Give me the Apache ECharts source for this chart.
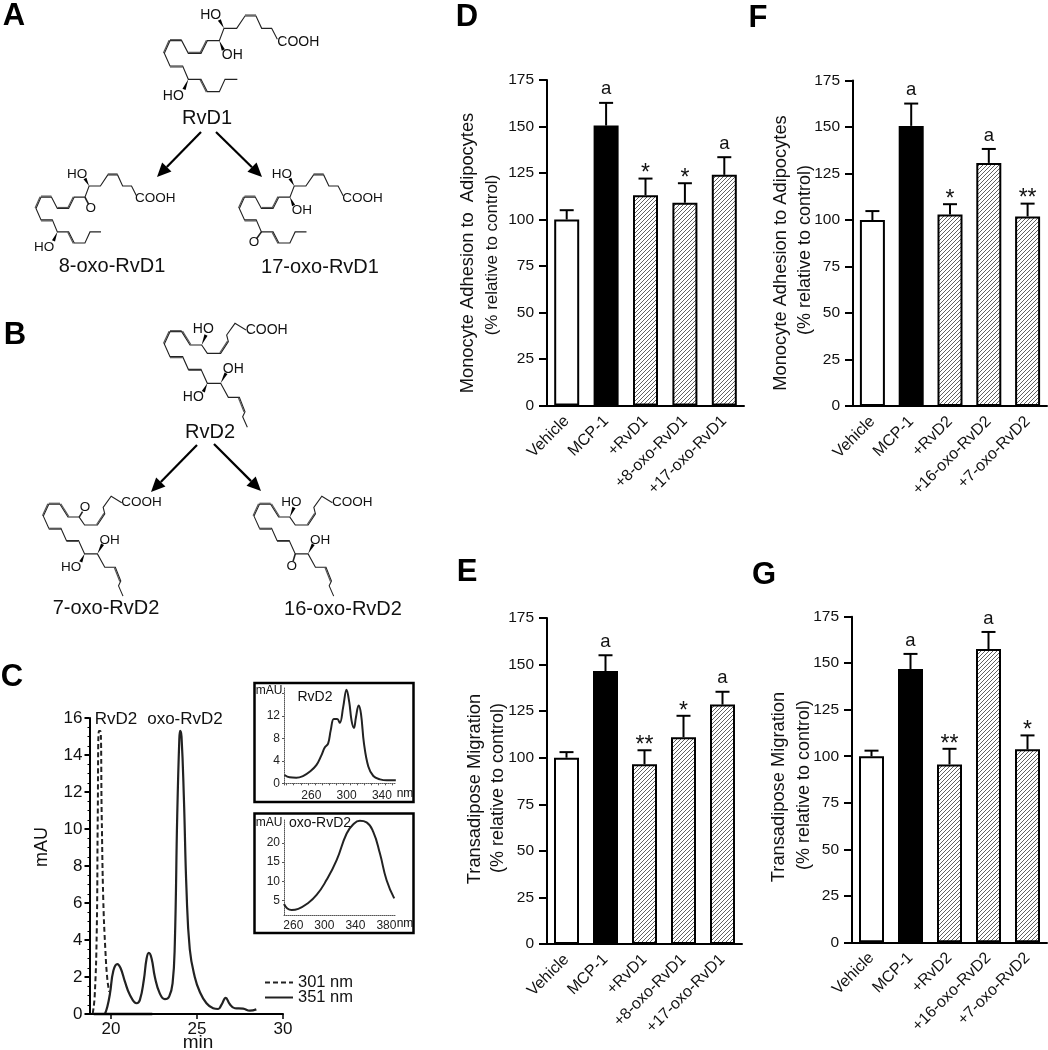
<!DOCTYPE html>
<html><head><meta charset="utf-8">
<style>html,body{margin:0;padding:0;background:#fff}#c{width:1048px;height:1050px}</style>
<script src="https://cdn.jsdelivr.net/npm/echarts@6/dist/echarts.min.js"></script>
</head><body><div id="c"></div>
<script>
// ---------- data ----------
const catsD = ['Vehicle','MCP-1','+RvD1','+8-oxo-RvD1','+17-oxo-RvD1'];
const catsF = ['Vehicle','MCP-1','+RvD2','+16-oxo-RvD2','+7-oxo-RvD2'];
const valsD = [100,150.5,113,109,124];
const topsD = [105,162.7,122,119.5,133.5];
const marksD = ['','a','*','*','a'];
const valsE = [100,146.5,96.5,111,128.5];
const topsE = [103,155,104,122.5,135.4];
const marksE = ['','a','**','*','a'];
const valsF = [100,150.6,103,130.7,101.9];
const topsF = [104.8,162.6,108.5,138.2,108.8];
const marksF = ['','a','*','a','**'];
const valsG = [100,146.9,95.6,157.6,103.7];
const topsG = [103,155,104,166.8,111.2];
const marksG = ['','a','**','a','*'];

const trace351 = [[19.65,0],[19.79,0.4],[19.94,1.1],[20.14,2.35],[20.37,2.7],[20.56,2.47],[20.81,1.75],[21.1,1.03],[21.49,0.58],[21.68,0.76],[21.91,1.85],[22.07,3.0],[22.2,3.3],[22.36,3.0],[22.55,2.0],[22.84,1.1],[23.13,0.8],[23.38,0.94],[23.58,1.66],[23.71,3.8],[23.85,10.7],[23.97,14.8],[24.02,15.3],[24.1,15.0],[24.24,11.6],[24.39,6.7],[24.58,3.5],[24.87,2.0],[25.16,1.2],[25.55,0.58],[25.94,0.31],[26.23,0.27],[26.42,0.49],[26.67,0.87],[26.9,0.54],[27.2,0.31],[27.68,0.29],[28.07,0.18],[28.45,0.25]];
const trace301 = [[18.94,0.04],[19.05,0.94],[19.17,4.4],[19.23,10.7],[19.3,15.3],[19.38,15.3],[19.46,10.7],[19.55,6.2],[19.67,3.5],[19.79,1.85],[19.9,1.2]];
const baseline = [[19,0],[22.4,0]];
const specRvD2 = [[229.6,1.48],[235.3,1.07],[242.9,1.0],[250.5,1.3],[258.1,2.07],[265.7,3.25],[271.4,5.0],[275.2,6.4],[279,7.1],[282,9.5],[285.5,11.5],[289.3,11.5],[292.3,10.8],[296.1,13.6],[299.9,16.7],[303,14.5],[305.6,11.2],[308.3,9.9],[310.6,11.8],[313.6,13.9],[316.3,12.4],[319.7,7.1],[324.6,3.0],[330.3,1.3],[337.9,0.71],[345.6,0.53],[355.8,0.53]];
const specOxo = [[248,4.14],[252.3,3.0],[257.9,2.6],[266.4,2.9],[277.2,4.14],[290,6.5],[302.9,10.4],[315.8,15.5],[328.7,22.4],[337.3,24.8],[345.8,25.7],[354.4,25.3],[363,22.8],[371.6,17.2],[380.2,10.3],[390,5.6]];

// ---------- helpers ----------
const F = '"Liberation Sans", Arial, sans-serif';
const G = [];
function txt(s,x,y,size,o){o=o||{};G.push({type:'text',x:x,y:y,rotation:o.rot||0,z:20,style:{text:s,x:0,y:0,fill:o.fill||'#111',fontFamily:F,fontSize:size,fontWeight:o.weight||'normal',align:o.align||'center',verticalAlign:'middle'}});}
function pl(points,w,col){G.push({type:'polyline',z:15,shape:{points:points},style:{stroke:col||'#222',lineWidth:w||1.1,fill:null,lineJoin:'miter'}});}
function arrow(x1,y1,x2,y2){const dx=x2-x1,dy=y2-y1,L=Math.hypot(dx,dy),ux=dx/L,uy=dy/L,hl=14,hw=6.5;
  pl([[x1,y1],[x2-ux*hl,y2-uy*hl]],2.2,'#000');
  G.push({type:'polygon',z:15,shape:{points:[[x2,y2],[x2-ux*hl-uy*hw,y2-uy*hl+ux*hw],[x2-ux*hl+uy*hw,y2-uy*hl-ux*hw]]},style:{fill:'#000'}});}

// structures: outline coordinates in a 3x sketch space
const chainD1=[[832,118],[815,85],[785,85],[768,48],[735,48],[710,85],[672,85],[658,122],[622,122],[603,160],[565,160],[545,122],[510,122],[493,160],[510,198],[548,198],[565,238],[603,238],[622,275],[658,275],[675,238],[712,238]];
const dblD1=[3,8,9,11,12,14,17];
const chainD2=[[738,30],[705,10],[680,45],[685,65],[662,100],[622,100],[605,75],[570,75],[545,35],[510,35],[493,72],[510,110],[548,110],[565,148],[603,148],[622,190],[662,190],[685,232],[718,232],[735,275],[728,290],[742,322]];
const dblD2=[3,7,8,9,11,13,18];
function mol(chain,dbl,tf,labels,wedges,size,oxo){
  const P=p=>tf(p[0],p[1]);
  pl(chain.map(p=>{const q=P(p);return [q[0]/3,q[1]/3];}));
  dbl.forEach(i=>{const a=P(chain[i]),b=P(chain[i+1]);const dx=b[0]-a[0],dy=b[1]-a[1],L=Math.hypot(dx,dy),nx=-dy/L*3,ny=dx/L*3;
    pl([[(a[0]+nx)/3,(a[1]+ny)/3],[(b[0]+nx)/3,(b[1]+ny)/3]],1.2,'#555');});
  wedges.forEach(w=>{const a=P(w[0]),b=P(w[1]);const dx=b[0]-a[0],dy=b[1]-a[1],L=Math.hypot(dx,dy),nx=-dy/L*5,ny=dx/L*5;
    G.push({type:'polygon',z:15,shape:{points:[[a[0]/3,a[1]/3],[(b[0]+nx)/3,(b[1]+ny)/3],[(b[0]-nx)/3,(b[1]-ny)/3]]},style:{fill:'#000'}});});
  labels.forEach(l=>{const q=P(l);txt(l[2],q[0]/3,q[1]/3,size);});
  if(oxo){const a=tf(oxo[0][0],oxo[0][1]);const t=oxo[1];
    const dx=t[0]-a[0],dy=t[1]-a[1],L=Math.hypot(dx,dy),k=(L-14)/L;
    pl([[a[0]/3,a[1]/3],[(a[0]+dx*k)/3,(a[1]+dy*k)/3]],1.6,'#222');
    txt('O',t[0]/3,t[1]/3,size);}
}
const ident=(ox,oy)=>(x,y)=>[x+ox,y+oy];
const tf8=(x,y)=>[108+(x-493)*0.89,522+(y-45)*0.9];
const tf17=(x,y)=>[718+(x-493)*0.92,522+(y-45)*0.9];
mol(chainD1,dblD1,ident(0,0),[[895,125,'COOH'],[632,45,'HO'],[697,165,'OH'],[520,288,'HO']],[[[672,85],[658,60]],[[658,122],[670,150]],[[565,238],[552,268]]],14);
mol(chainD1,dblD1,tf8,[[895,125,'COOH'],[632,45,'HO'],[520,288,'HO']],[[[672,85],[658,60]],[[565,238],[552,268]]],13.5,[[658,122],[272,625]]);
mol(chainD1,dblD1,tf17,[[895,125,'COOH'],[632,45,'HO'],[697,165,'OH']],[[[672,85],[658,60]],[[658,122],[670,150]]],13.5,[[565,238],[762,727]]);
const B0=960;
const tf7=(x,y)=>[130+(x-493)*0.96,B0+548+(y-30)*0.96];
const tf16=(x,y)=>[762+(x-493)*0.96,B0+548+(y-30)*0.96];
mol(chainD2,dblD2,ident(0,B0),[[800,30,'COOH'],[610,28,'HO'],[700,147,'OH'],[580,232,'HO']],[[[605,75],[618,45]],[[662,190],[678,160]],[[622,190],[610,215]]],14);
mol(chainD2,dblD2,tf7,[[800,30,'COOH'],[700,147,'OH'],[580,232,'HO']],[[[662,190],[678,160]],[[622,190],[610,215]]],13.5,[[605,75],[255,B0+563]]);
mol(chainD2,dblD2,tf16,[[800,30,'COOH'],[610,28,'HO'],[700,147,'OH']],[[[605,75],[618,45]],[[662,190],[678,160]]],13.5,[[622,190],[875,B0+738]]);

txt('RvD1',207,118,20); txt('8-oxo-RvD1',112,266,20); txt('17-oxo-RvD1',320,267,20);
txt('RvD2',210,432,20); txt('7-oxo-RvD2',106,608,20); txt('16-oxo-RvD2',343,609,20);
arrow(201,132,157,177); arrow(216,132,262,177);
arrow(197,445,151,492); arrow(214,444,261,491);

[['A',14,16],['B',15,335],['C',12,677],['D',467,17],['E',467,572],['F',758,18],['G',764,575]].forEach(l=>txt(l[0],l[1],l[2],31,{weight:'bold',fill:'#000'}));

// rotated axis titles
[['Monocyte Adhesion to  Adipocytes',468,253,18.3],['(% relative to control)',492,255,17],
 ['Transadipose Migration',475,789,18.3],['(% relative to control)',498,788,18],
 ['Monocyte Adhesion to Adipocytes',781,253,18.3],['(% relative to control)',805,250,18],
 ['Transadipose Migration',779,787,18.3],['(% relative to control)',804,785,18]
].forEach(t=>txt(t[0],t[1],t[2],t[3],{rot:Math.PI/2}));

// chromatogram texts
txt('RvD2',116,719,17); txt('oxo-RvD2',185,719,17);
txt('mAU',42,847,18,{rot:Math.PI/2}); txt('min',198,1043,19);
// insets
function box(x,y,w,h){G.push({type:'rect',z:14,shape:{x:x,y:y,width:w,height:h},style:{fill:null,stroke:'#000',lineWidth:2.5}});}
box(254.5,683,159,119); box(254.5,813.5,159,119.5);
txt('mAU',269,691,12); txt('RvD2',315,697,14); txt('nm',405,794,12);
txt('mAU',269,823,12); txt('oxo-RvD2',320,823,14); txt('nm',405,924,12);

// hatch tile
const tile=document.createElement('canvas');tile.width=4;tile.height=4;
(function(){const c=tile.getContext('2d');c.fillStyle='#fff';c.fillRect(0,0,4,4);c.strokeStyle='#444';c.lineWidth=0.85;
 c.beginPath();c.moveTo(-1,5);c.lineTo(5,-1);c.moveTo(-1,1);c.lineTo(1,-1);c.moveTo(3,5);c.lineTo(5,3);c.stroke();})();
const fills=['#fff','#000',{image:tile,repeat:'repeat'},{image:tile,repeat:'repeat'},{image:tile,repeat:'repeat'}];

// ---------- options ----------
const grids=[],xAxes=[],yAxes=[],series=[];
function barPanel(cats,vals,tops,marks,left,right,top,bottom){
  const i=grids.length;
  grids.push({left:left,top:top,width:right-left,height:bottom-top});
  xAxes.push({gridIndex:i,type:'category',data:cats,axisTick:{show:false},axisLine:{lineStyle:{color:'#000',width:2}},
    axisLabel:{rotate:45,interval:0,margin:13,fontSize:16,color:'#111',fontFamily:F}});
  yAxes.push({gridIndex:i,type:'value',min:0,max:175,interval:25,splitLine:{show:false},
    axisLine:{show:true,lineStyle:{color:'#000',width:2}},axisTick:{show:true,length:8,lineStyle:{color:'#000',width:2}},
    axisLabel:{fontSize:15.5,color:'#111',margin:13,fontFamily:F}});
  series.push({type:'bar',xAxisIndex:i,yAxisIndex:i,barWidth:25,silent:true,animation:false,
    data:vals.map((v,k)=>({value:v,itemStyle:{color:fills[k],borderColor:'#000',borderWidth:2}}))});
  series.push({type:'custom',xAxisIndex:i,yAxisIndex:i,silent:true,animation:false,z:5,
    encode:{x:0,y:2},
    data:vals.map((v,k)=>[k,v,tops[k],marks[k]]),
    renderItem:function(p,api){
      const a=api.coord([api.value(0),api.value(1)]),b=api.coord([api.value(0),api.value(2)]);
      const m=marks[api.value(0)],st={stroke:'#000',lineWidth:2};
      const ch=[{type:'line',shape:{x1:a[0],y1:a[1],x2:a[0],y2:b[1]},style:st},
                {type:'line',shape:{x1:a[0]-7,y1:b[1],x2:a[0]+7,y2:b[1]},style:st}];
      if(m){const isA=m==='a';
        ch.push({type:'text',style:{text:m,x:a[0],y:isA?b[1]-4:b[1]+7,align:'center',verticalAlign:'bottom',fontSize:isA?18.5:23,fontFamily:F,fill:'#111'}});}
      return {type:'group',children:ch};
    }});
}
barPanel(catsD,valsD,topsD,marksD,547,744,80,405.5);
barPanel(catsD,valsE,topsE,marksE,547,742,618,944);
barPanel(catsF,valsF,topsF,marksF,853,1047,80.5,406);
barPanel(catsF,valsG,topsG,marksG,852,1047,616.7,942.3);

// chromatogram
let gi=grids.length;
grids.push({left:89.5,top:718,width:193.5,height:296});
xAxes.push({gridIndex:gi,type:'value',min:18.75,max:30,splitLine:{show:false},
  axisLine:{lineStyle:{color:'#000',width:2}},
  axisTick:{show:true,length:5,customValues:[20,25,30],lineStyle:{color:'#000',width:1.5}},
  axisLabel:{customValues:[20,25,30],fontSize:17,color:'#111',margin:7,fontFamily:F}});
yAxes.push({gridIndex:gi,type:'value',min:0,max:16,interval:2,splitLine:{show:false},
  axisLine:{show:true,lineStyle:{color:'#000',width:2}},
  axisTick:{show:true,length:5,lineStyle:{color:'#000',width:2}},
  minorTick:{show:true,splitNumber:4,length:2,lineStyle:{color:'#000',width:1}},
  axisLabel:{fontSize:17,color:'#111',margin:7,fontFamily:F}});
const lineBase={type:'line',xAxisIndex:gi,yAxisIndex:gi,showSymbol:false,symbol:'none',silent:true,animation:false,smooth:0.45,clip:false};
series.push(Object.assign({},lineBase,{name:'301 nm',data:trace301,lineStyle:{color:'#222',width:2,type:[5,3]},itemStyle:{color:'#222'}}));
series.push(Object.assign({},lineBase,{name:'351 nm',data:trace351,lineStyle:{color:'#222',width:2.2},itemStyle:{color:'#222'}}));
series.push(Object.assign({},lineBase,{name:'baseline',data:baseline,smooth:false,lineStyle:{color:'#000',width:2.5}}));

// inset 1
gi=grids.length;
const inX={fontSize:12,color:'#222',margin:5,fontFamily:F};
grids.push({left:284,top:687,width:112,height:98});
const t1=[];for(let v=232;v<=356;v+=8)t1.push(v);
xAxes.push({gridIndex:gi,type:'value',min:229,max:356,splitLine:{show:false},axisLine:{lineStyle:{color:'#555',width:1,type:'dotted'}},
  axisTick:{show:true,length:2,customValues:t1,lineStyle:{color:'#555'}},axisLabel:Object.assign({customValues:[260,300,340]},inX)});
yAxes.push({gridIndex:gi,type:'value',min:-0.3,max:17.2,splitLine:{show:false},axisLine:{show:true,lineStyle:{color:'#555',width:1,type:'dotted'}},
  axisTick:{show:true,length:2,customValues:[0,4,8,12,16],lineStyle:{color:'#555'}},axisLabel:Object.assign({customValues:[0,4,8,12]},inX,{margin:4})});
series.push({type:'line',xAxisIndex:gi,yAxisIndex:gi,data:specRvD2,symbol:'none',smooth:0.4,silent:true,animation:false,lineStyle:{color:'#222',width:2}});
// inset 2
gi=grids.length;
grids.push({left:284,top:820,width:111,height:95});
xAxes.push({gridIndex:gi,type:'value',min:248,max:391,splitLine:{show:false},axisLine:{lineStyle:{color:'#555',width:1,type:'dotted'}},
  axisTick:{show:false},axisLabel:Object.assign({customValues:[260,300,340,380]},inX)});
yAxes.push({gridIndex:gi,type:'value',min:1.3,max:25.9,splitLine:{show:false},axisLine:{show:true,lineStyle:{color:'#555',width:1,type:'dotted'}},
  axisTick:{show:true,length:2,customValues:[5,10,15,20],lineStyle:{color:'#555'}},axisLabel:Object.assign({customValues:[5,10,15,20]},inX,{margin:4})});
series.push({type:'line',xAxisIndex:gi,yAxisIndex:gi,data:specOxo,symbol:'none',smooth:0.5,silent:true,animation:false,lineStyle:{color:'#222',width:2}});

const chart=echarts.init(document.getElementById('c'),null,{renderer:'canvas'});
chart.setOption({
  backgroundColor:'#fff',animation:false,
  grid:grids,xAxis:xAxes,yAxis:yAxes,series:series,
  legend:{data:['301 nm','351 nm'],orient:'vertical',left:259,top:969,itemGap:-2,itemWidth:28,itemHeight:14,itemStyle:{opacity:0},
    textStyle:{fontSize:16.5,color:'#111',fontFamily:F},selectedMode:false},
  graphic:{elements:G}
});
</script></body></html>
